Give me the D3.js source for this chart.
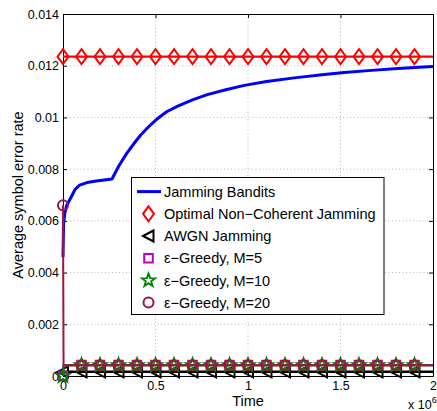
<!DOCTYPE html>
<html><head><meta charset="utf-8">
<script src="https://cdn.jsdelivr.net/npm/d3@7"></script>
<style>
body{margin:0;background:#fff}
svg{display:block}
text{font-family:"Liberation Sans",Arial,Helvetica,sans-serif;fill:#000}
</style>
</head><body>
<svg id="chart" width="437" height="411"></svg>
<script>
// ---------- data (time in units of 10^6) ----------
const xTicks = [0, 0.5, 1, 1.5, 2];
const xTickLabels = ["0", "0.5", "1", "1.5", "2"];
const yTicks = [0, 0.002, 0.004, 0.006, 0.008, 0.01, 0.012, 0.014];
const yTickLabels = ["0", "0.002", "0.004", "0.006", "0.008", "0.01", "0.012", "0.014"];
const seriesNames = ["Jamming Bandits", "Optimal Non\u2212Coherent Jamming", "AWGN Jamming",
  "\u03b5\u2212Greedy, M=5", "\u03b5\u2212Greedy, M=10", "\u03b5\u2212Greedy, M=20"];

const bandTime = [0, 0.003, 0.01, 0.02, 0.035, 0.05, 0.065, 0.09, 0.13, 0.18, 0.265, 0.30, 0.345, 0.39, 0.42, 0.46, 0.51, 0.56, 0.62, 0.70, 0.78, 0.88, 0.98, 1.10, 1.25, 1.40, 1.52, 1.65, 1.79, 1.90, 2.0];
const bandSER  = [0.0046, 0.0059, 0.0063, 0.0066, 0.0068, 0.0070, 0.00722, 0.00738, 0.00748, 0.00754, 0.00762, 0.0081, 0.00862, 0.00905, 0.00932, 0.00962, 0.00995, 0.01022, 0.01044, 0.01068, 0.01088, 0.01107, 0.01124, 0.01139, 0.01153, 0.01165, 0.01174, 0.01181, 0.01188, 0.01193, 0.01197];

const refTime = [0, 0.1, 0.2, 0.3, 0.4, 0.5, 0.6, 0.7, 0.8, 0.9, 1.0, 1.1, 1.2, 1.3, 1.4, 1.5, 1.6, 1.7, 1.8, 1.9, 2.0];
const optimalSER = [0.01235, 0.01235, 0.01235, 0.01235, 0.01235, 0.01235, 0.01235, 0.01235, 0.01235, 0.01235, 0.01235, 0.01235, 0.01235, 0.01235, 0.01235, 0.01235, 0.01235, 0.01235, 0.01235, 0.01235, 0.01235];
const awgnSER = [0.00016, 0.00016, 0.00016, 0.00016, 0.00016, 0.00016, 0.00016, 0.00016, 0.00016, 0.00016, 0.00016, 0.00016, 0.00016, 0.00016, 0.00016, 0.00016, 0.00016, 0.00016, 0.00016, 0.00016, 0.00016];

const greedyTime = [0, 0.003, 0.1, 0.2, 0.3, 0.4, 0.5, 0.6, 0.7, 0.8, 0.9, 1.0, 1.1, 1.2, 1.3, 1.4, 1.5, 1.6, 1.7, 1.8, 1.9, 2.0];
const greedyM5SER  = [0, 0.00042, 0.00042, 0.00042, 0.00042, 0.00042, 0.00042, 0.00042, 0.00042, 0.00042, 0.00042, 0.00042, 0.00042, 0.00042, 0.00042, 0.00042, 0.00042, 0.00042, 0.00042, 0.00042, 0.00042, 0.00042];
const greedyM10SER = [0, 0.00042, 0.00042, 0.00042, 0.00042, 0.00042, 0.00042, 0.00042, 0.00042, 0.00042, 0.00042, 0.00042, 0.00042, 0.00042, 0.00042, 0.00042, 0.00042, 0.00042, 0.00042, 0.00042, 0.00042, 0.00042];
const greedyM20SER = [0.0066, 0.00042, 0.00042, 0.00042, 0.00042, 0.00042, 0.00042, 0.00042, 0.00042, 0.00042, 0.00042, 0.00042, 0.00042, 0.00042, 0.00042, 0.00042, 0.00042, 0.00042, 0.00042, 0.00042, 0.00042, 0.00042];

const markerTime = [0, 0.1, 0.2, 0.3, 0.4, 0.5, 0.6, 0.7, 0.8, 0.9, 1.0, 1.1, 1.2, 1.3, 1.4, 1.5, 1.6, 1.7, 1.8, 1.9];

// ---------- layout ----------
const L = 63, R = 433, T = 14, B = 376;
const svg = d3.select("#chart");
const x = d3.scaleLinear().domain([0, 2]).range([L, R]);
const y = d3.scaleLinear().domain([0, 0.014]).range([B, T]);

// grid
const grid = svg.append("g").attr("stroke", "#b8b8b8").attr("stroke-width", 1).attr("stroke-dasharray", "1,2.5");
xTicks.filter(t => t > 0 && t < 2).forEach(t => grid.append("line")
  .attr("x1", x(t)).attr("x2", x(t)).attr("y1", T).attr("y2", B));
yTicks.filter(t => t > 0 && t < 0.014).forEach(t => grid.append("line")
  .attr("x1", L).attr("x2", R).attr("y1", y(t)).attr("y2", y(t)));

// axes
const fmtX = (d, i) => xTickLabels[i];
const fmtY = (d, i) => yTickLabels[i];
const axB = svg.append("g").attr("transform", `translate(0,${B})`)
  .call(d3.axisBottom(x).tickValues(xTicks).tickFormat(fmtX).tickSizeInner(-4).tickSizeOuter(0).tickPadding(8));
const axT = svg.append("g").attr("transform", `translate(0,${T})`)
  .call(d3.axisTop(x).tickValues(xTicks).tickFormat("").tickSizeInner(-4).tickSizeOuter(0));
const axL = svg.append("g").attr("transform", `translate(${L},0)`)
  .call(d3.axisLeft(y).tickValues(yTicks).tickFormat(fmtY).tickSizeInner(-4).tickSizeOuter(0).tickPadding(4));
const axR = svg.append("g").attr("transform", `translate(${R},0)`)
  .call(d3.axisRight(y).tickValues(yTicks).tickFormat("").tickSizeInner(-4).tickSizeOuter(0));
[axB, axT, axL, axR].forEach(a => {
  a.select(".domain").attr("stroke", "#000").attr("stroke-width", 1);
  a.selectAll(".tick line").attr("stroke", "#000");
  a.selectAll("text").attr("font-family", '"Liberation Sans",Arial,sans-serif').attr("font-size", 12.5).attr("fill", "#000");
});
axB.selectAll("text").attr("dy", null).attr("y", 13.8);

// axis labels
svg.append("text").attr("x", x(1)).attr("y", 405.5).attr("text-anchor", "middle")
  .attr("font-size", 14.5).text("Time");
svg.append("text").attr("transform", "translate(23,195) rotate(-90)").attr("text-anchor", "middle")
  .attr("font-size", 14.5).text("Average symbol error rate");
const ex = svg.append("text").attr("x", 408).attr("y", 409).attr("font-size", 12.5);
ex.append("tspan").text("x 10");
ex.append("tspan").attr("dy", -6).attr("font-size", 9).text("6");

// ---------- marker shapes ----------
const shapes = {
  diamond: "M0,-7.5L5.5,0L0,7.5L-5.5,0Z",
  triLeft: "M-5.5,0L5,-5.5L5,5.5Z",
  square: "M-4.3,-4.3H4.3V4.3H-4.3Z",
  circle: "M5,0A5,5 0 1,1 -5,0A5,5 0 1,1 5,0Z",
  star: (() => { let p = []; for (let i = 0; i < 10; i++) { const r = i % 2 ? 2.8 : 7; const a = -Math.PI / 2 + i * Math.PI / 5; p.push([r * Math.cos(a), r * Math.sin(a)]); } return "M" + p.map(q => q[0].toFixed(2) + "," + q[1].toFixed(2)).join("L") + "Z"; })()
};

const series = [
  {name: seriesNames[0], t: bandTime, v: bandSER, color: "#0000ff", lw: 3, shape: null},
  {name: seriesNames[1], t: refTime, v: optimalSER, color: "#ff0000", lw: 2.3, shape: "diamond", mw: 2},
  {name: seriesNames[2], t: refTime, v: awgnSER, color: "#000000", lw: 2.5, shape: "triLeft", mw: 2},
  {name: seriesNames[3], t: greedyTime, v: greedyM5SER, color: "#bf00bf", lw: 2, shape: "square", mw: 2},
  {name: seriesNames[4], t: greedyTime, v: greedyM10SER, color: "#008000", lw: 2, shape: "star", mw: 1.8},
  {name: seriesNames[5], t: greedyTime, v: greedyM20SER, color: "#a01538", lw: 2, shape: "circle", mw: 2}
];

const line = d3.line().x(d => x(d[0])).y(d => y(d[1]));
const isMarker = t => markerTime.some(m => Math.abs(m - t) < 1e-9);

series.forEach(s => {
  const pts = s.t.map((t, i) => [t, s.v[i]]);
  const g = svg.append("g");
  g.append("path").attr("d", line(pts)).attr("fill", "none").attr("stroke", s.color)
    .attr("stroke-width", s.lw).attr("stroke-linejoin", "round");
  if (s.shape) {
    g.selectAll("path.m").data(pts.filter(p => isMarker(p[0]))).enter().append("path")
      .attr("class", "m").attr("d", shapes[s.shape])
      .attr("transform", d => `translate(${x(d[0])},${y(d[1])})`)
      .attr("fill", "none").attr("stroke", s.color).attr("stroke-width", s.mw).attr("stroke-linejoin", "miter");
  }
});

// ---------- legend ----------
const lg = svg.append("g");
lg.append("rect").attr("x", 131.5).attr("y", 177.5).attr("width", 252.5).attr("height", 137)
  .attr("fill", "#fff").attr("stroke", "#000").attr("stroke-width", 1);
series.forEach((s, i) => {
  const cy = 191.6 + i * 22.2;
  if (s.shape) {
    lg.append("path").attr("d", shapes[s.shape]).attr("transform", `translate(148.5,${cy})`)
      .attr("fill", "none").attr("stroke", s.color).attr("stroke-width", s.mw);
  } else {
    lg.append("line").attr("x1", 137).attr("x2", 161).attr("y1", cy).attr("y2", cy)
      .attr("stroke", s.color).attr("stroke-width", s.lw);
  }
  lg.append("text").attr("x", 164).attr("y", cy).attr("dy", "0.36em").attr("font-size", 14.5).text(s.name);
});
</script>
</body></html>
